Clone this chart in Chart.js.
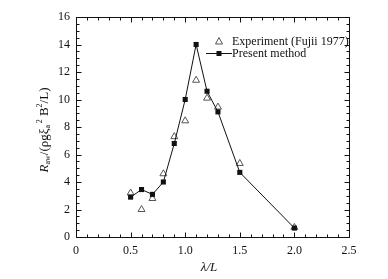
<!DOCTYPE html>
<html>
<head>
<meta charset="utf-8">
<script src="https://cdn.jsdelivr.net/npm/chart.js@4.4.1/dist/chart.umd.min.js"></script>
<style>
html,body{margin:0;padding:0;background:#fff;}
#wrap{width:388px;height:279px;}
</style>
</head>
<body>
<div id="wrap"><canvas id="c" width="388" height="279"></canvas></div>
<script>
const lambdaPresent = [0.5, 0.6, 0.7, 0.8, 0.9, 1.0, 1.1, 1.2, 1.3, 1.5, 2.0];
const rawPresent    = [2.9, 3.45, 3.1, 4.0, 6.8, 10.0, 14.0, 10.6, 9.1, 4.7, 0.65];
const lambdaExp     = [0.5, 0.6, 0.7, 0.8, 0.9, 1.0, 1.1, 1.2, 1.3, 1.5, 2.0];
const rawExp        = [3.2, 2.0, 2.8, 4.6, 7.3, 8.45, 11.4, 10.1, 9.45, 5.35, 0.7];
const xTicks = [0, 0.5, 1.0, 1.5, 2.0, 2.5];
const yTicks = [0, 2, 4, 6, 8, 10, 12, 14, 16];
const seriesLabels = ['Experiment (Fujii 1977)', 'Present method'];

const FONT = '"Liberation Serif", "Times New Roman", serif';

const framePlugin = {
  id: 'frame',
  afterDraw(chart) {
    const ctx = chart.ctx;
    const a = chart.chartArea;
    const xs = chart.scales.x, ys = chart.scales.y;
    ctx.save();
    ctx.strokeStyle = '#111';
    ctx.lineWidth = 1;
    const L = Math.round(a.left) + 0.5, R = Math.round(a.right) + 0.5;
    const T = Math.round(a.top) + 0.5, B = Math.round(a.bottom) + 0.5;
    ctx.strokeRect(L, T, R - L, B - T);
    ctx.beginPath();
    for (let i = 0; i <= 25; i++) {
      const v = i / 10;
      const px = Math.round(xs.getPixelForValue(v)) + 0.5;
      const len = (i % 5 === 0) ? 5 : 3;
      ctx.moveTo(px, B); ctx.lineTo(px, B - len);
      ctx.moveTo(px, T); ctx.lineTo(px, T + len);
    }
    for (let i = 0; i <= 32; i++) {
      const v = i / 2;
      const py = Math.round(ys.getPixelForValue(v)) + 0.5;
      const len = (i % 4 === 0) ? 5 : 3;
      ctx.moveTo(L, py); ctx.lineTo(L + len, py);
      ctx.moveTo(R, py); ctx.lineTo(R - len, py);
    }
    ctx.stroke();

    // Legend
    ctx.font = '12px ' + FONT;
    ctx.textBaseline = 'middle';
    ctx.textAlign = 'left';
    // row 1: open triangle
    ctx.strokeStyle = '#555';
    ctx.beginPath();
    ctx.moveTo(219, 37.5);
    ctx.lineTo(222.5, 44);
    ctx.lineTo(215.5, 44);
    ctx.closePath();
    ctx.stroke();
    ctx.fillStyle = '#111';
    ctx.fillText(seriesLabels[0], 232, 41.5);
    // row 2: line + square
    ctx.strokeStyle = '#111';
    ctx.beginPath();
    ctx.moveTo(206, 53.5); ctx.lineTo(232, 53.5);
    ctx.stroke();
    ctx.fillRect(216.5, 51, 5, 5);
    ctx.fillText(seriesLabels[1], 232, 53.5);

    // X title
    ctx.font = 'italic 13px ' + FONT;
    ctx.textAlign = 'center';
    ctx.fillText('\u03bb/L', 209, 268);

    // Y title (rotated, with subscripts)
    ctx.save();
    ctx.translate(45, 130);
    ctx.rotate(-Math.PI / 2);
    const segs = [
      {t: 'R', f: 'italic 13px ', dy: 0},
      {t: 'aw', f: '8px ', dy: 3},
      {t: '/(\u03c1g\u03be', f: '13px ', dy: 0},
      {t: 'a', f: '8px ', dy: 3},
      {t: '\u2009', f: '8px ', dy: 0},
      {t: '2', f: '8px ', dy: -5},
      {t: ' B', f: '13px ', dy: 0},
      {t: '2', f: '8px ', dy: -5},
      {t: '/L)', f: '13px ', dy: 0}
    ];
    let total = 0;
    segs.forEach(s => { ctx.font = s.f + FONT; s.w = ctx.measureText(s.t).width; total += s.w; });
    let x = -total / 2;
    ctx.textAlign = 'left';
    ctx.textBaseline = 'middle';
    ctx.fillStyle = '#111';
    segs.forEach(s => { ctx.font = s.f + FONT; ctx.fillText(s.t, x, s.dy); x += s.w; });
    ctx.restore();
    ctx.restore();
  }
};

new Chart(document.getElementById('c'), {
  type: 'scatter',
  data: {
    datasets: [
      {
        label: seriesLabels[0],
        data: lambdaExp.map((x, i) => ({x: x, y: rawExp[i]})),
        showLine: false,
        pointStyle: 'triangle',
        pointRadius: 4,
        pointBorderWidth: 1,
        pointBackgroundColor: 'rgba(255,255,255,0)',
        pointBorderColor: '#555',
        order: 2
      },
      {
        label: seriesLabels[1],
        data: lambdaPresent.map((x, i) => ({x: x, y: rawPresent[i]})),
        showLine: true,
        borderColor: '#111',
        borderWidth: 1,
        pointStyle: 'rect',
        pointRadius: 3.6,
        pointBorderWidth: 0,
        pointBackgroundColor: '#111',
        pointBorderColor: '#111',
        tension: 0,
        order: 1
      }
    ]
  },
  options: {
    responsive: false,
    animation: false,
    devicePixelRatio: 1,
    layout: {padding: {left: 0, right: 39, top: 17, bottom: 0}},
    plugins: {legend: {display: false}, tooltip: {enabled: false}},
    scales: {
      x: {
        type: 'linear', min: 0, max: 2.5,
        grid: {display: false, drawTicks: false},
        border: {display: false},
        afterFit(s) { s.height = 42; },
        afterBuildTicks(s) { s.ticks = xTicks.map(v => ({value: v})); },
        ticks: {
          padding: 7, color: '#111', font: {family: FONT, size: 12},
          maxRotation: 0,
          callback: v => (v === 0 ? '0' : Number(v).toFixed(1))
        }
      },
      y: {
        type: 'linear', min: 0, max: 16,
        grid: {display: false, drawTicks: false},
        border: {display: false},
        afterFit(s) { s.width = 76; },
        afterBuildTicks(s) { s.ticks = yTicks.map(v => ({value: v})); },
        ticks: {
          padding: 6, color: '#111', font: {family: FONT, size: 12},
          callback: v => String(v)
        }
      }
    }
  },
  plugins: [framePlugin]
});
</script>
</body>
</html>
